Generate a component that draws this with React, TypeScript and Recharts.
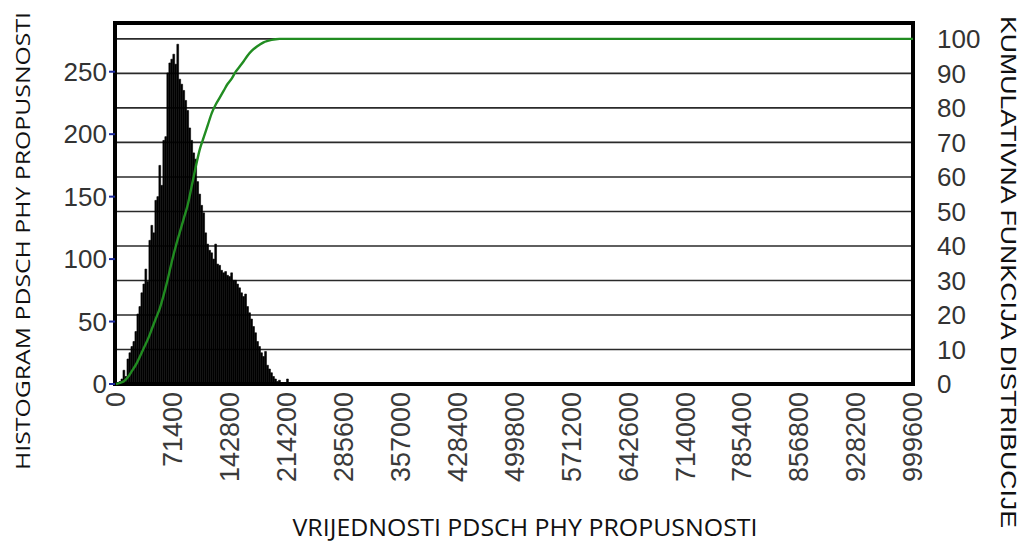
import { ComposedChart, Bar, Line, XAxis, YAxis, CartesianGrid, ReferenceArea } from 'recharts';

// histogram bins (2500 wide, starting at 0), counts
const binWidth = 2500;
const histCounts = [
  0, 1, 2, 4, 11, 6, 20, 25, 30, 34,
  42, 56, 62, 73, 80, 92, 82, 115, 127, 121,
  147, 150, 175, 159, 195, 198, 249, 257, 260, 264,
  256, 272, 244, 240, 235, 227, 219, 205, 195, 185,
  180, 162, 152, 143, 137, 121, 112, 107, 105, 100,
  112, 96, 95, 91, 89, 90, 87, 86, 89, 83,
  83, 80, 77, 73, 70, 72, 62, 57, 52, 46,
  41, 34, 30, 25, 22, 26, 15, 12, 9, 6,
  4, 2, 3, 1, 0, 0, 4, 0,
];

// cumulative distribution (percent), read at bin centres
const cdfX = [
  1250, 6250, 11250, 16250, 21250, 26250, 31250, 36250, 41250, 46250,
  51250, 56250, 61250, 66250, 71250, 76250, 81250, 86250, 91250, 96250,
  101250, 106250, 111250, 116250, 121250, 126250, 131250, 136250, 141250, 146250,
  151250, 156250, 161250, 166250, 171250, 176250, 181250, 186250, 191250, 196250,
  201250, 206250, 1000000,
];
const cdfPercent = [
  0, 0.3, 0.8, 2, 3.8, 5.6, 8, 10.5, 13, 16,
  19, 22, 26, 30.5, 35.5, 40, 44, 48, 52, 57.5,
  63, 68, 71.5, 75, 78.5, 81, 83, 85, 87, 88.5,
  90.5, 92, 93.5, 95.2, 96.5, 97.5, 98.3, 99, 99.4, 99.7,
  99.9, 100, 100,
];

const xTicks = [0, 71400, 142800, 214200, 285600, 357000, 428400, 499800, 571200, 642600, 714000, 785400, 856800, 928200, 999600];
const leftTicks = [0, 50, 100, 150, 200, 250];
const rightTicks = [0, 10, 20, 30, 40, 50, 60, 70, 80, 90, 100];

const rows = new Map<number, any>();
histCounts.forEach((c, i) => {
  const x = binWidth * i + binWidth / 2;
  rows.set(x, { ...(rows.get(x) || {}), x, count: c });
});
cdfX.forEach((x, i) => {
  rows.set(x, { ...(rows.get(x) || {}), x, cdf: cdfPercent[i] });
});
const data = [...rows.values()].sort((a, b) => a.x - b.x);

const tickFont = '"Liberation Sans", Arial, sans-serif';

function XTick(props: any) {
  const { x, y, payload } = props;
  return (
    <g transform={`translate(${x},${y})`}>
      <text transform="rotate(-90)" x={0} y={0} dy="0.36em" textAnchor="end" fill="#3a3a3a" fontSize={27} fontFamily={tickFont}>
        {payload.value}
      </text>
    </g>
  );
}

export default function App() {
  return (
    <div style={{ position: 'absolute', left: 0, top: 0, width: 1022, height: 543, background: '#fff' }}>
      <ComposedChart width={1022} height={543} data={data} margin={{ top: 23, right: 0, bottom: 0, left: 0 }}>
        <CartesianGrid yAxisId="right" vertical={false} stroke="#2a2a2a" strokeWidth={1.6} />
        <XAxis
          dataKey="x"
          type="number"
          domain={[0, 1000000]}
          ticks={xTicks}
          height={159}
          axisLine={false}
          tickLine={false}
          tickSize={0}
          tickMargin={8}
          interval={0}
          tick={<XTick />}
        />
        <YAxis
          yAxisId="left"
          orientation="left"
          width={115}
          domain={[0, 289]}
          ticks={leftTicks}
          interval={0}
          axisLine={false}
          tickLine={{ stroke: '#1c2a9c', strokeWidth: 2 }}
          tickSize={6}
          tickMargin={2}
          tick={{ fill: '#333', fontSize: 26, fontFamily: tickFont }}
        />
        <YAxis
          yAxisId="right"
          orientation="right"
          width={109}
          domain={[0, 104.6]}
          ticks={rightTicks}
          interval={0}
          axisLine={false}
          tickLine={false}
          tickSize={0}
          tickMargin={24}
          tick={{ fill: '#333', fontSize: 26, fontFamily: tickFont }}
        />
        <Bar yAxisId="left" dataKey="count" fill="#000" stroke="#000" strokeWidth={0.6} barSize={2} isAnimationActive={false} />
        <Line
          yAxisId="right"
          dataKey="cdf"
          type="monotone"
          stroke="#218c21"
          strokeWidth={2.4}
          dot={false}
          connectNulls
          isAnimationActive={false}
        />
        <ReferenceArea
          yAxisId="left"
          x1={0}
          x2={1000000}
          y1={0}
          y2={289}
          fill="none"
          fillOpacity={0}
          stroke="#000"
          strokeWidth={4}
          ifOverflow="visible"
        />
      </ComposedChart>
      <svg width={1022} height={543} style={{ position: 'absolute', left: 0, top: 0, pointerEvents: 'none' }}>
        <text
          transform="translate(22,241) rotate(-90)"
          textAnchor="middle"
          dominantBaseline="central"
          fontFamily='"Open Sans", sans-serif'
          fontSize={20}
          fill="#111"
          textLength={458}
          lengthAdjust="spacingAndGlyphs"
        >
          HISTOGRAM PDSCH PHY PROPUSNOSTI
        </text>
        <text
          transform="translate(1008,272) rotate(90)"
          textAnchor="middle"
          dominantBaseline="central"
          fontFamily={tickFont}
          fontSize={22}
          fill="#111"
          textLength={512}
          lengthAdjust="spacingAndGlyphs"
        >
          KUMULATIVNA FUNKCIJA DISTRIBUCIJE
        </text>
        <text
          x={525}
          y={527}
          textAnchor="middle"
          dominantBaseline="central"
          fontFamily='"Open Sans", sans-serif'
          fontSize={23}
          fill="#111"
          textLength={465}
          lengthAdjust="spacingAndGlyphs"
        >
          VRIJEDNOSTI PDSCH PHY PROPUSNOSTI
        </text>
      </svg>
    </div>
  );
}
